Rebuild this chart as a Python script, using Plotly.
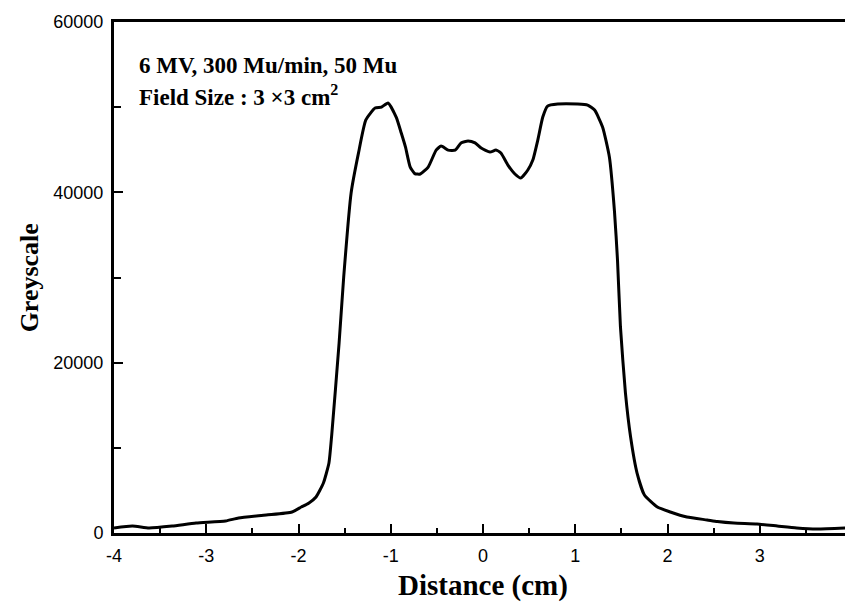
import plotly.graph_objects as go

distance = [-4.00, -3.80, -3.62, -3.37, -3.11, -2.79, -2.65, -2.35, -2.07, -1.97,
            -1.89, -1.81, -1.73, -1.67, -1.64, -1.56, -1.51, -1.43, -1.35, -1.27,
            -1.17, -1.10, -1.03, -0.94, -0.886, -0.84, -0.79, -0.74, -0.68, -0.594,
            -0.508, -0.454, -0.378, -0.302, -0.238, -0.162, -0.086, -0.02, 0.076, 0.14,
            0.194, 0.27, 0.346, 0.41, 0.486, 0.54, 0.594, 0.648, 0.70, 0.81,
            1.026, 1.134, 1.21, 1.296, 1.37, 1.425, 1.458, 1.49, 1.544, 1.60,
            1.67, 1.75, 1.89, 2.03, 2.21, 2.43, 2.54, 2.72, 2.97, 3.19,
            3.40, 3.62, 3.94]
greyscale = [590, 820, 590, 820, 1170, 1410, 1760, 2110, 2470, 3050,
             3500, 4230, 5870, 8220, 11500, 22300, 30060, 39900, 44600, 48500,
             49900, 50000, 50500, 48800, 46960, 45300, 43000, 42200, 42150, 42970,
             44960, 45430, 44960, 44960, 45800, 46030, 45800, 45200, 44730, 44960,
             44610, 43200, 42150, 41680, 42620, 43790, 46140, 48840, 50130, 50370,
             50370, 50250, 49660, 47670, 44150, 37800, 32050, 24190, 16440, 11270,
             7040, 4460, 3050, 2470, 1880, 1530, 1350, 1170, 1060, 820,
             590, 470, 590]

x_ticks = [-4, -3, -2, -1, 0, 1, 2, 3, 4]
y_ticks = [0, 20000, 40000, 60000]

note_line1 = "6 MV, 300 Mu/min, 50 Mu"
note_line2 = "Field Size : 3 ×3 cm<sup>2</sup>"
x_title = "Distance (cm)"
y_title = "Greyscale"

fig = go.Figure()
fig.add_trace(go.Scatter(x=distance, y=greyscale, mode="lines",
                         line=dict(color="black", width=3, shape="spline", smoothing=0.5),
                         showlegend=False, hoverinfo="skip"))

tick_font = dict(family="Liberation Sans, Arial, sans-serif", size=18, color="black")
serif_bold = dict(family="Liberation Serif, Times New Roman, serif", color="black", weight="bold")

# page has an 8px body margin, so the figure is made 8px smaller and margins shifted
fig.update_layout(
    width=845, height=600,
    margin=dict(l=106, r=1, t=14, b=75),
    paper_bgcolor="white", plot_bgcolor="white",
    showlegend=False,
)
fig.update_xaxes(
    range=[-4, 4], tickvals=x_ticks, ticktext=[str(v) for v in x_ticks],
    showgrid=False, zeroline=False, automargin=False,
    showline=True, linecolor="black", linewidth=3, mirror=True,
    ticks="inside", ticklen=9, tickwidth=2, tickcolor="black",
    minor=dict(dtick=0.5, tick0=0, ticks="inside", ticklen=5, tickwidth=2, tickcolor="black"),
    tickfont=tick_font, ticklabelstandoff=4, ticklabeloverflow="allow",
)
fig.update_yaxes(
    range=[0, 60000], tickvals=y_ticks, ticktext=[str(v) for v in y_ticks],
    showgrid=False, zeroline=False, automargin=False,
    showline=True, linecolor="black", linewidth=3, mirror=False,
    ticks="inside", ticklen=9, tickwidth=2, tickcolor="black",
    minor=dict(dtick=10000, tick0=0, ticks="inside", ticklen=7, tickwidth=2, tickcolor="black"),
    tickfont=tick_font, ticklabelstandoff=4,
)

# thin right frame line
fig.add_shape(type="line", xref="paper", yref="paper", x0=1, x1=1, y0=0, y1=1,
              line=dict(color="black", width=1.5))

fig.add_annotation(text=note_line1, xref="paper", yref="paper", x=0.031, y=0.914,
                   xanchor="left", yanchor="middle", showarrow=False,
                   font=dict(size=23, **serif_bold))
fig.add_annotation(text=note_line2, xref="paper", yref="paper", x=0.031, y=0.857,
                   xanchor="left", yanchor="middle", showarrow=False,
                   font=dict(size=23, **serif_bold))
fig.add_annotation(text=x_title, xref="paper", yref="paper", x=0.5, y=-0.102,
                   xanchor="center", yanchor="middle", showarrow=False,
                   font=dict(size=29, **serif_bold))
fig.add_annotation(text=y_title, xref="paper", yref="paper", x=-0.114, y=0.5,
                   xanchor="center", yanchor="middle", showarrow=False, textangle=-90,
                   font=dict(size=26, **serif_bold))

fig.write_html("out.html")
